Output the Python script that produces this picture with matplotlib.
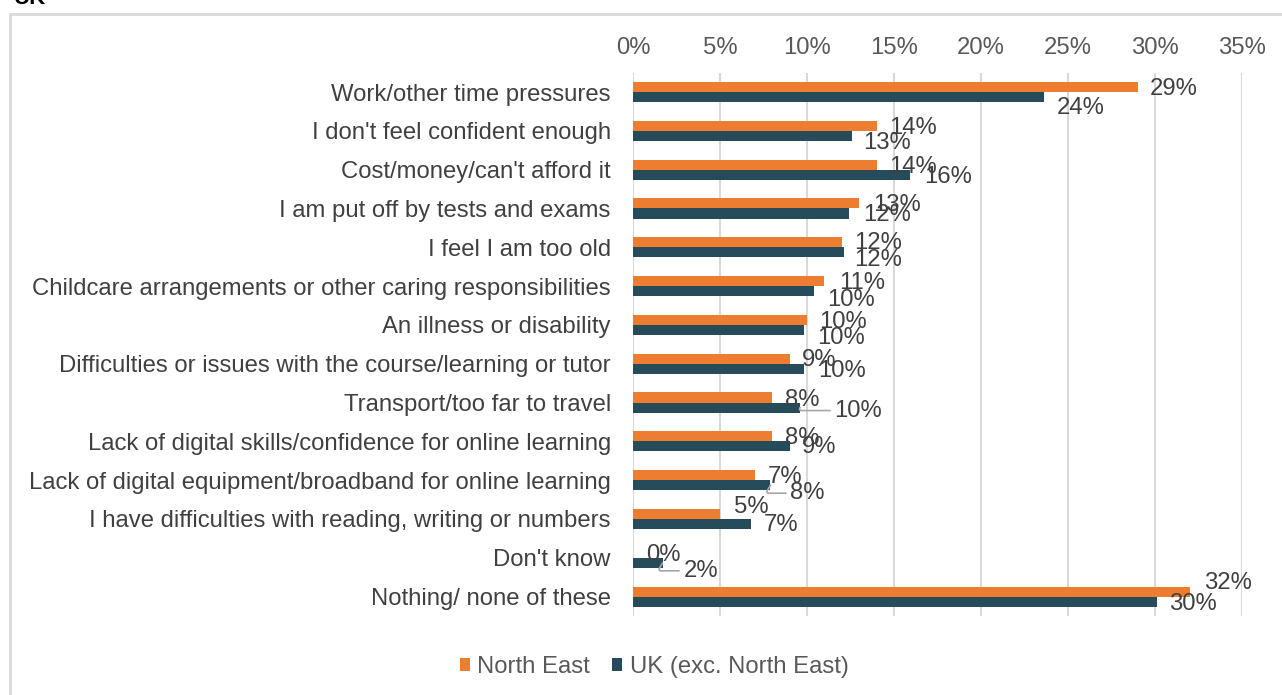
import numpy as np
import matplotlib
matplotlib.use("Agg")
import matplotlib.pyplot as plt
from matplotlib.patches import Rectangle

plt.rcParams['font.family'] = ['Liberation Sans', 'DejaVu Sans']

# barriers to learning, share of respondents (%)
categories = [
    "Work/other time pressures",
    "I don't feel confident enough",
    "Cost/money/can't afford it",
    "I am put off by tests and exams",
    "I feel I am too old",
    "Childcare arrangements or other caring responsibilities",
    "An illness or disability",
    "Difficulties or issues with the course/learning or tutor",
    "Transport/too far to travel",
    "Lack of digital skills/confidence for online learning",
    "Lack of digital equipment/broadband for online learning",
    "I have difficulties with reading, writing or numbers",
    "Don't know",
    "Nothing/ none of these",
]
north_east = [29.0, 14.0, 14.0, 13.0, 12.0, 11.0, 10.0, 9.0, 8.0, 8.0, 7.0, 5.0, 0.0, 32.0]
uk_exc_ne = [23.6, 12.6, 15.9, 12.4, 12.1, 10.4, 9.8, 9.8, 9.6, 9.0, 7.9, 6.8, 1.7, 30.1]
series_names = ["North East", "UK (exc. North East)"]
xticks = [0, 5, 10, 15, 20, 25, 30, 35]

ORANGE = "#ED7D31"
NAVY = "#264B5B"
GRID = "#D9D9D9"
TXT = "#404040"
FS = 17.2

# label offsets from the bar end, in pixels (dx right, dy down)
ne_offsets = [(36, 2), (36, 2), (36, 2), (38, 2), (36, 1), (38, 2), (36, 2),
              (30, 1), (30, 3), (30, 2), (30, 2), (31, -7), (30, 2), (38, -9)]
uk_offsets = [(37, 11), (35, 7), (38, 2), (38, 2), (35, 8), (37, 9), (37, 8),
              (38, 2), (58, 3), (30, 1), (37, 8), (30, 1), (38, 8), (36, 2)]
leaders = {8, 10, 12}

W, H = 1282, 695
fig = plt.figure(figsize=(W / 100, H / 100), dpi=100)
ax = fig.add_axes([633 / W, 1 - 616 / H, (1242 - 633) / W, (616 - 72.6) / H])

y = np.arange(len(categories))
bh = 0.26
ax.barh(y - bh / 2, north_east, height=bh, color=ORANGE, label=series_names[0], zorder=3)
ax.barh(y + bh / 2, uk_exc_ne, height=bh, color=NAVY, label=series_names[1], zorder=3)

for i in range(len(categories)):
    dx, dy = ne_offsets[i]
    ax.annotate(f"{north_east[i]:.0f}%", (north_east[i], y[i] - bh / 2),
                xytext=(dx, -dy), textcoords="offset pixels",
                ha="center", va="center", fontsize=FS, color=TXT, zorder=5)
    dx, dy = uk_offsets[i]
    arrow = None
    if i in leaders:
        arrow = dict(arrowstyle="-", color="#A6A6A6", lw=1.2, shrinkA=1, shrinkB=0,
                     connectionstyle="angle,angleA=0,angleB=60,rad=3")
    ax.annotate(f"{uk_exc_ne[i]:.0f}%", (uk_exc_ne[i], y[i] + bh / 2),
                xytext=(dx, -dy), textcoords="offset pixels",
                ha="center", va="center", fontsize=FS, color=TXT, zorder=5,
                arrowprops=arrow)

ax.set_xlim(0, 35)
ax.set_ylim(len(categories) - 0.5, -0.5)
ax.set_xticks(xticks)
ax.set_xticklabels([f"{t}%" for t in xticks])
ax.xaxis.tick_top()
ax.tick_params(axis="x", length=0, pad=10, labelsize=FS, labelcolor="#595959")
ax.set_yticks(y)
ax.set_yticklabels(categories)
ax.tick_params(axis="y", length=0, pad=16, labelsize=FS, labelcolor=TXT)
ax.grid(axis="x", color=GRID, lw=1.5, zorder=0)
for s in ax.spines.values():
    s.set_visible(False)

fig.legend(loc="center", bbox_to_anchor=(654 / W, 1 - 667 / H), ncol=2, frameon=False,
           handlelength=0.45, handleheight=0.45, handletextpad=0.3, columnspacing=0.9,
           fontsize=FS, labelcolor="#595959")

# chart frame and clipped heading above it
fig.add_artist(Rectangle((10 / W, -0.1), 1.2, 1.1 - 14.5 / H, transform=fig.transFigure,
                         fill=False, ec=GRID, lw=2))
fig.text(14 / W, 1 - 4 / H, "UK", fontsize=16, fontweight="bold", color="black",
         va="baseline", ha="left")

fig.savefig("out.png", dpi=100)
